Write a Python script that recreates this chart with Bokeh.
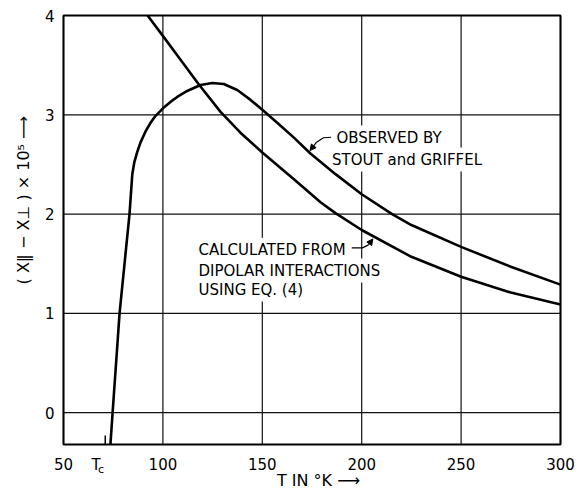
import math
from bokeh.plotting import figure
from bokeh.models import Label, Arrow, NormalHead, Range1d
from bokeh.embed import file_html
from bokeh.resources import INLINE

# Observed (Stout and Griffel) - peaked curve
T_obs = [73.6, 74.7, 78.2, 83.2, 84.6, 85.6, 87.0, 88.7, 91.2, 93.8, 96.3, 98.8, 100,
         103.8, 107.2, 112.2, 118.9, 124.8, 130.6, 137.4, 144.1, 150, 157.5,
         165.9, 174.2, 187, 200, 215.3, 225, 250, 275, 300]
chi_obs = [-0.32, 0.0, 1.0, 2.0, 2.40, 2.52, 2.62, 2.72, 2.83, 2.92, 2.99, 3.04, 3.065,
           3.13, 3.18, 3.24, 3.30, 3.32, 3.31, 3.25, 3.15, 3.05, 2.92,
           2.77, 2.61, 2.40, 2.20, 2.0, 1.89, 1.67, 1.47, 1.29]

# Calculated from dipolar interactions
T_calc = [92.3, 99.8, 107.2, 117.9, 129, 139, 150, 165.9, 179.3, 186.8, 200,
          225, 250, 275, 300]
chi_calc = [4.0, 3.80, 3.60, 3.31, 3.03, 2.82, 2.62, 2.35, 2.12, 2.01, 1.84,
            1.57, 1.37, 1.21, 1.09]

x_ticks = [50, 100, 150, 200, 250, 300]
x_tick_labels = ["50", "100", "150", "200", "250", "300"]
y_ticks = [0, 1, 2, 3, 4]
y_tick_labels = ["0", "1", "2", "3", "4"]
T_c = 71.0

# plot box (data limits of the drawn frame)
X0, X1 = 50, 300
Y0, Y1 = -0.32, 4

# pixel geometry of the box inside the figure
W, H = 578, 489
BOX_L, BOX_R, BOX_T, BOX_B = 63, 560, 15, 444
sx = (X1 - X0) / (BOX_R - BOX_L)        # data units per pixel, x
sy = (Y1 - Y0) / (BOX_B - BOX_T)        # data units per pixel, y
x_range = Range1d(X0 - BOX_L * sx, X1 + (W - BOX_R) * sx)
y_range = Range1d(Y0 - (H - BOX_B) * sy, Y1 + BOX_T * sy)

FONT = "DejaVu Sans"

p = figure(width=W, height=H, x_range=x_range, y_range=y_range,
           output_backend="svg", toolbar_location=None,
           x_axis_location=None, y_axis_location=None,
           min_border=0)
p.grid.visible = False
p.outline_line_color = None
p.background_fill_color = "white"
p.border_fill_color = "white"

# grid lines
p.segment(x0=x_ticks, y0=[Y0] * len(x_ticks), x1=x_ticks, y1=[Y1] * len(x_ticks),
          line_color="#111111", line_width=1.2)
p.segment(x0=[X0] * len(y_ticks), y0=y_ticks, x1=[X1] * len(y_ticks), y1=y_ticks,
          line_color="#111111", line_width=1.2)
# frame
p.quad(left=[X0], right=[X1], bottom=[Y0], top=[Y1], fill_color=None,
       line_color="black", line_width=2)

# tick labels
p.text(x=x_ticks, y=[Y0 - 19 * sy] * len(x_ticks), text=x_tick_labels,
       text_font={"value": FONT}, text_font_size="15px", text_align="center",
       text_baseline="middle", text_color="black")
p.text(x=[X0 - 9 * sx] * len(y_ticks), y=y_ticks, text=y_tick_labels,
       text_font={"value": FONT}, text_font_size="15px", text_align="right",
       text_baseline="middle", text_color="black")

# curves (drawn on top of the white text boxes)
p.line(T_obs, chi_obs, line_color="black", line_width=2.6, level="overlay")
p.line(T_calc, chi_calc, line_color="black", line_width=2.6, level="overlay")

# Tc tick mark
p.segment(x0=[T_c], y0=[Y0], x1=[T_c], y1=[Y0 + 9 * sy], line_color="black", line_width=1.5)


def lab(x, y, text, size="15px", align="left", angle=0.0, bg=None, pad=3):
    l = Label(x=x, y=y, text=text, text_font=FONT, text_font_size=size,
              text_align=align, text_baseline="middle", text_color="black", angle=angle)
    if bg:
        l.background_fill_color = bg
        l.padding = pad
    p.add_layout(l)
    return l


# Tc label
lab(T_c - 4.6, Y0 - 20 * sy, "T", size="15px", align="center")
lab(T_c - 2.1, Y0 - 25 * sy, "c", size="11px", align="center")

# axis titles
lab(178.3, Y0 - 36 * sy, "T IN °K ⟶", size="16px", align="center")
lab(X0 - 40 * sx, 2.14, "( X‖ − X⊥ ) × 10⁵ ⟶", size="16px", align="center",
    angle=math.pi / 2)

# annotations
lab(185.8, 2.771, "OBSERVED BY", bg="white", pad=3)
lab(183.6, 2.549, "STOUT and GRIFFEL", bg="white", pad=3)
lab(116.4, 1.642, "CALCULATED FROM", bg="white")
lab(116.4, 1.431, "DIPOLAR INTERACTIONS", bg="white")
lab(116.4, 1.240, "USING EQ. (4)", bg="white")

# leader lines
p.line([184.6, 180.8, 177.3], [2.774, 2.769, 2.724], line_color="black", line_width=1.2)
p.add_layout(Arrow(end=NormalHead(size=6, fill_color="black", line_color="black"),
                   x_start=177.3, y_start=2.724, x_end=174.0, y_end=2.64,
                   line_color="black", line_width=1.2))
p.line([195.0, 200.4, 203.4], [1.66, 1.66, 1.69], line_color="black", line_width=1.2)
p.add_layout(Arrow(end=NormalHead(size=6, fill_color="black", line_color="black"),
                   x_start=203.4, y_start=1.69, x_end=205.6, y_end=1.75,
                   line_color="black", line_width=1.2))

open("out.html", "w").write(file_html(p, INLINE))
